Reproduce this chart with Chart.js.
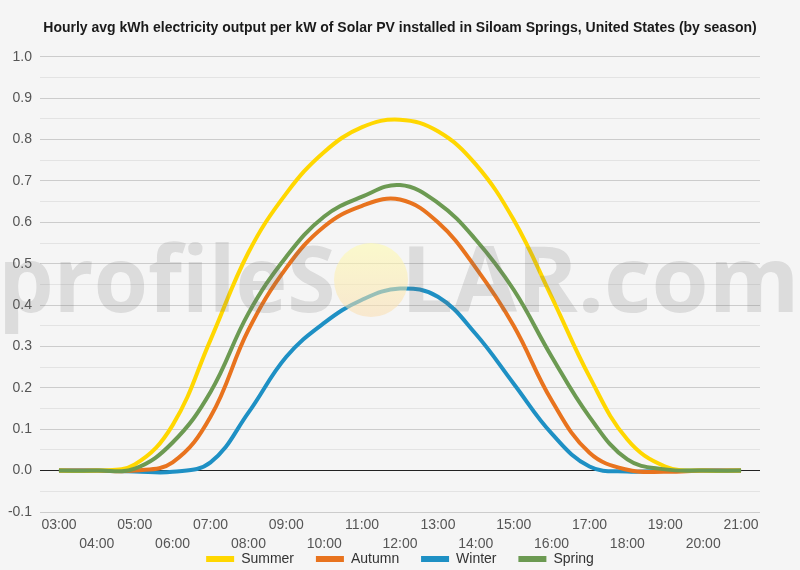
<!DOCTYPE html>
<html><head><meta charset="utf-8">
<script src="https://cdn.jsdelivr.net/npm/chart.js@4/dist/chart.umd.min.js"></script>
<style>html,body{margin:0;padding:0;background:#f5f5f5;overflow:hidden}#wrap{width:800px;height:570px;position:relative}canvas{display:block}</style>
</head><body><div id="wrap"><canvas id="c" width="800" height="570" style="width:800px;height:570px"></canvas></div>
<script>
const hours = ['03:00','04:00','05:00','06:00','07:00','08:00','09:00','10:00','11:00','12:00','13:00','14:00','15:00','16:00','17:00','18:00','19:00','20:00','21:00'];
const summer = [0,0,0.015,0.11,0.316,0.527,0.67,0.77,0.83,0.848,0.82,0.74,0.606,0.42,0.227,0.075,0.01,0,0];
const autumn = [0,0,0,0.02,0.13,0.34,0.49,0.59,0.64,0.655,0.6,0.49,0.35,0.17,0.043,0.002,-0.003,0,0];
const winter = [0,0,-0.002,-0.003,0.02,0.14,0.275,0.357,0.413,0.44,0.42,0.33,0.21,0.09,0.01,-0.002,0,0,0];
const spring = [0,0,0.005,0.068,0.19,0.38,0.517,0.614,0.662,0.69,0.647,0.558,0.437,0.276,0.13,0.027,0.003,0,0];
const seriesNames = ['Summer','Autumn','Winter','Spring'];
const seriesColors = ['#FFD700','#E8731E','#1E90C4','#6C9A52'];
const titleText = 'Hourly avg kWh electricity output per kW of Solar PV installed in Siloam Springs, United States (by season)';

const FONT = "'Liberation Sans', Arial, sans-serif";

const bgPlugin = {
  id: 'bg',
  beforeDraw(chart) {
    const ctx = chart.ctx;
    ctx.save();
    ctx.fillStyle = '#f5f5f5';
    ctx.fillRect(0, 0, chart.width, chart.height);
    ctx.restore();
  }
};

const watermark = {
  id: 'watermark',
  afterDatasetsDraw(chart) {
    const ctx = chart.ctx;
    ctx.save();
    ctx.font = "bold 92px 'Open Sans', 'DejaVu Sans', sans-serif";
    ctx.textBaseline = 'alphabetic';
    ctx.fillStyle = 'rgba(110,110,110,0.19)';
    const base = 312;
    const drawFit = (txt, x0, x1) => {
      const m = ctx.measureText(txt);
      const w = m.actualBoundingBoxRight + m.actualBoundingBoxLeft;
      ctx.save();
      ctx.translate(x0, base);
      ctx.scale((x1 - x0) / w, 1);
      ctx.fillText(txt, m.actualBoundingBoxLeft, 0);
      ctx.restore();
    };
    drawFit('profileS', 5, 333);
    drawFit('LAR.com', 409, 793);
    const g = ctx.createLinearGradient(0, 243, 0, 318);
    g.addColorStop(0, 'rgba(255,252,170,0.55)');
    g.addColorStop(1, 'rgba(250,220,175,0.55)');
    ctx.fillStyle = g;
    ctx.beginPath();
    ctx.arc(371, 280, 37, 0, Math.PI * 2);
    ctx.fill();
    ctx.restore();
  }
};

const orders = [1, 2, 3, 0];
new Chart(document.getElementById('c'), {
  type: 'line',
  data: {
    labels: hours,
    datasets: [summer, autumn, winter, spring].map((d, i) => ({
      label: seriesNames[i],
      data: d,
      borderColor: seriesColors[i],
      backgroundColor: seriesColors[i],
      borderWidth: 4,
      pointRadius: 0,
      tension: 0.4,
      fill: false,
      order: orders[i]
    }))
  },
  options: {
    responsive: false,
    maintainAspectRatio: false,
    animation: false,
    devicePixelRatio: 1,
    layout: { padding: { left: 0, right: 0, top: 0, bottom: -6 } },
    plugins: {
      title: {
        display: true,
        text: titleText,
        color: '#1a1a1a',
        font: { family: FONT, size: 14, weight: 'bold', lineHeight: 1.2 },
        padding: { top: 20, bottom: 20 }
      },
      legend: {
        position: 'bottom',
        labels: {
          color: '#333',
          font: { family: FONT, size: 14 },
          boxWidth: 28,
          boxHeight: 6,
          padding: 4,
          sort: (a, b) => a.datasetIndex - b.datasetIndex,
          generateLabels(chart) {
            const items = Chart.defaults.plugins.legend.labels.generateLabels(chart);
            items.forEach((it) => {
              it.lineWidth = 0;
              it.strokeStyle = 'rgba(0,0,0,0)';
              if (it.datasetIndex < seriesNames.length - 1) it.text = it.text + '\u2003 ';
            });
            return items;
          }
        }
      },
      tooltip: { enabled: false }
    },
    scales: {
      x: {
        offset: true,
        grid: { display: false, drawTicks: false },
        border: { display: false },
        ticks: {
          autoSkip: false,
          maxRotation: 0,
          minRotation: 0,
          padding: 4,
          color: '#555',
          font: { family: FONT, size: 14, lineHeight: 1.35 },
          callback: function (v, i) { const l = this.getLabelForValue(v); return i % 2 ? ['', l] : l; }
        },
        afterFit(s) { s.height = 36; }
      },
      y: {
        min: -0.1,
        max: 1.0,
        border: { display: false },
        grid: {
          drawTicks: false,
          lineWidth: 1,
          color: (c) => {
            const v = Math.round(c.tick.value * 100);
            if (v === 0) return '#222';
            return v % 10 === 0 ? '#cccccc' : '#e3e3e3';
          }
        },
        ticks: {
          stepSize: 0.05,
          padding: 8,
          color: '#555',
          font: { family: FONT, size: 14 },
          callback: (v) => { const r = Math.round(v * 100); return r % 10 === 0 ? (r / 100).toFixed(1) : ''; }
        },
        afterFit(s) { s.width = 40; }
      },
      yRight: {
        position: 'right',
        min: -0.1,
        max: 1.0,
        display: true,
        grid: { display: false, drawTicks: false },
        border: { display: false },
        ticks: { display: false },
        afterFit(s) { s.width = 40; }
      }
    }
  },
  plugins: [bgPlugin, watermark]
});
</script>
</body></html>
